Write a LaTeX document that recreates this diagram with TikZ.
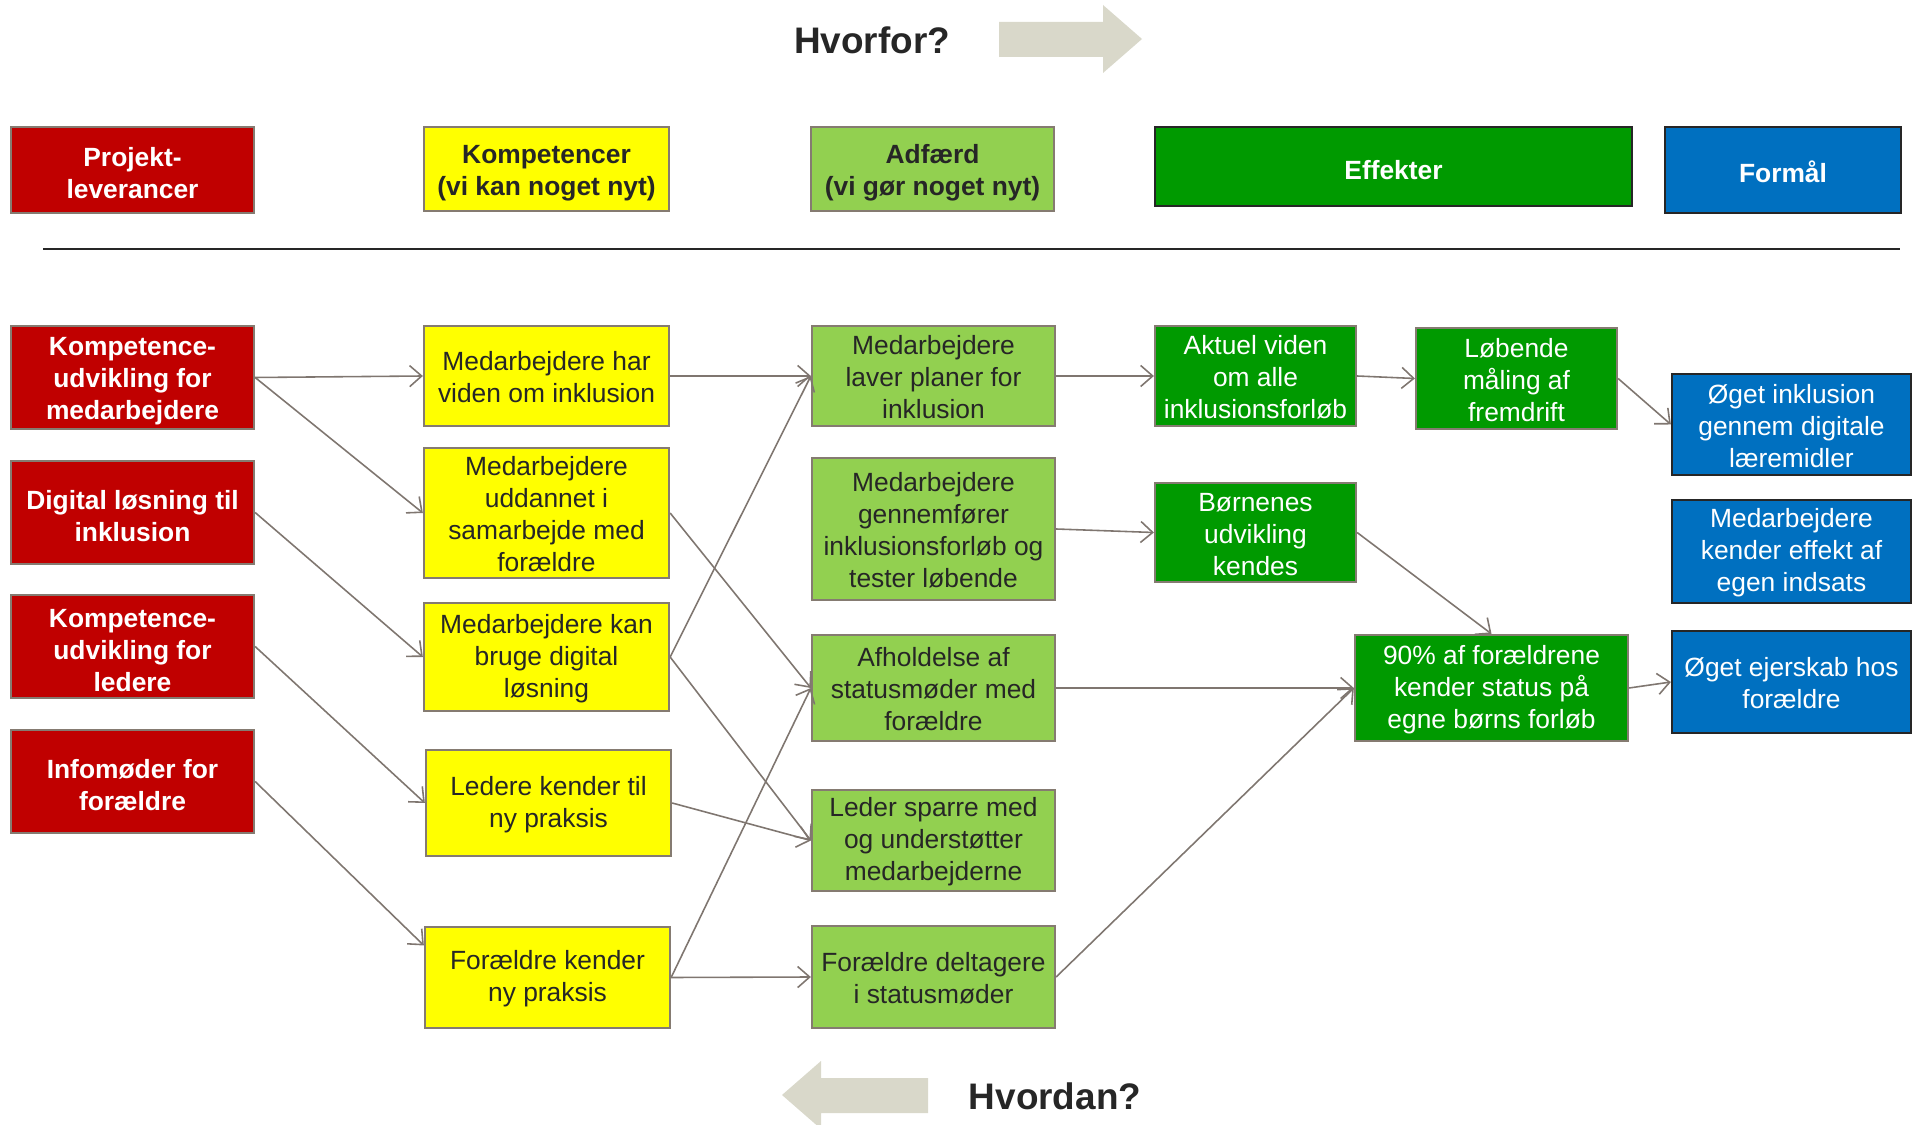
\documentclass[tikz,border=0pt]{standalone}
\usepackage{fontspec}
\setmainfont{Liberation Sans}
\usetikzlibrary{arrows.meta}

\definecolor{rod}{HTML}{C00000}
\definecolor{gul}{HTML}{FFFF00}
\definecolor{lysgron}{HTML}{92D050}
\definecolor{morkgron}{HTML}{009A00}
\definecolor{bla}{HTML}{0070C0}
\definecolor{kant}{HTML}{857B71}
\definecolor{morkkant}{HTML}{262626}
\definecolor{tekst}{HTML}{262626}
\definecolor{pilgraa}{HTML}{D9D8CA}
\definecolor{streg}{HTML}{7F7670}

\tikzset{
	bredde/.style={minimum width=#1, text width=#1},
	boks/.style={draw=kant, line width=0.6pt, align=flush center, inner sep=0pt,
		font=\fontsize{7.5}{9.1}\selectfont,
		execute at begin node={\rule{0pt}{6.3pt}}},
	rodboks/.style={boks, fill=rod, text=white, overskrift},
	gulboks/.style={boks, fill=gul, text=tekst},
	lysboks/.style={boks, fill=lysgron, text=tekst},
	gronboks/.style={boks, fill=morkgron, text=white},
	blaboks/.style={boks, draw=morkkant, fill=bla, text=white},
	overskrift/.style={font=\fontsize{7.5}{9.1}\selectfont\bfseries,
		execute at begin node={\rule{0pt}{7.4pt}}},
	titel/.style={text=tekst, font=\fontsize{10.5}{12}\selectfont\bfseries},
	pil/.style={draw=streg, line width=0.45pt,
		-{Straight Barb[length=1.2mm,width=2.1mm]}},
}

\begin{document}
\begin{tikzpicture}[x=0.01cm, y=-0.01cm]
	\clip (0,0) rectangle (1921,1125);

	% Hvorfor / Hvordan
	\fill[pilgraa] (999,22) -- (1103,22) -- (1103,5) -- (1142,39) -- (1103,73)
	-- (1103,57) -- (999,57) -- cycle;
	\node[titel] (hvorfor) at (872,40) {Hvorfor?};
	\fill[pilgraa] (928,1078) -- (821,1078) -- (821,1061) -- (782,1095) --
	(821,1129) -- (821,1113) -- (928,1113) -- cycle;
	\node[titel] (hvordan) at (1055,1096) {Hvordan?};

	% Overskrifter
	\node[rodboks, bredde=2.43cm, minimum height=0.86cm] (hP) at
	(132.5,170) {Projekt-\\leverancer};
	\node[gulboks, overskrift, bredde=2.45cm, minimum height=0.84cm] (hK)
	at (546.5,169) {Kompetencer\\(vi kan noget nyt)};
	\node[lysboks, overskrift, bredde=2.43cm, minimum height=0.84cm] (hA)
	at (932.5,169) {Adfærd\\(vi gør noget nyt)};
	\node[gronboks, overskrift, draw=morkkant, bredde=4.77cm,
	minimum height=0.79cm] (hE) at (1393.5,166.5) {Effekter};
	\node[blaboks, overskrift, bredde=2.36cm, minimum height=0.86cm] (hF)
	at (1783,170) {Formål};
	\draw[morkkant, line width=0.6pt] (43,249) -- (1900,249);

	% Projektleverancer
	\node[rodboks, bredde=2.43cm, minimum height=1.03cm] (r1) at
	(132.5,377.5) {Kompetence-\\udvikling for\\medarbejdere};
	\node[rodboks, bredde=2.43cm, minimum height=1.03cm] (r2) at
	(132.5,512.5) {Digital løsning til\\inklusion};
	\node[rodboks, bredde=2.43cm, minimum height=1.03cm] (r3) at
	(132.5,646.5) {Kompetence-\\udvikling for\\ledere};
	\node[rodboks, bredde=2.43cm, minimum height=1.03cm] (r4) at
	(132.5,781.5) {Infomøder for\\forældre};

	% Kompetencer
	\node[gulboks, bredde=2.45cm, minimum height=1.00cm] (y1) at
	(546.5,376) {Medarbejdere har\\viden om inklusion};
	\node[gulboks, bredde=2.45cm, minimum height=1.30cm] (y2) at
	(546.5,513) {Medarbejdere\\uddannet i\\samarbejde med\\forældre};
	\node[gulboks, bredde=2.45cm, minimum height=1.08cm] (y3) at
	(546.5,657) {Medarbejdere kan\\bruge digital\\løsning};
	\node[gulboks, bredde=2.45cm, minimum height=1.06cm] (y4) at
	(548.5,803) {Ledere kender til\\ny praksis};
	\node[gulboks, bredde=2.45cm, minimum height=1.01cm] (y5) at
	(547.5,977.5) {Forældre kender\\ny praksis};

	% Adfærd
	\node[lysboks, bredde=2.43cm, minimum height=1.00cm] (g1) at
	(933.5,376) {Medarbejdere\\laver planer for\\inklusion};
	\node[lysboks, bredde=2.43cm, minimum height=1.42cm] (g2) at
	(933.5,529) {Medarbejdere\\gennemfører\\inklusionsforløb og\\tester løbende};
	\node[lysboks, bredde=2.43cm, minimum height=1.06cm] (g3) at
	(933.5,688) {Afholdelse af\\statusmøder med\\forældre};
	\node[lysboks, bredde=2.43cm, minimum height=1.01cm] (g4) at
	(933.5,840.5) {Leder sparre med\\og understøtter\\medarbejderne};
	\node[lysboks, bredde=2.43cm, minimum height=1.02cm] (g5) at
	(933.5,977) {Forældre deltagere\\i statusmøder};

	% Effekter
	\node[gronboks, bredde=2.01cm, minimum height=1.00cm] (d1) at
	(1255.5,376) {Aktuel viden\\om alle\\inklusionsforløb};
	\node[gronboks, bredde=2.01cm, minimum height=1.01cm] (d2) at
	(1516.5,378.5) {Løbende\\måling af\\fremdrift};
	\node[gronboks, bredde=2.01cm, minimum height=0.99cm] (d3) at
	(1255.5,532.5) {Børnenes\\udvikling\\kendes};
	\node[gronboks, bredde=2.73cm, minimum height=1.06cm] (d4) at
	(1491.5,688) {90\% af forældrene\\kender status på\\egne børns forløb};

	% Formål
	\node[blaboks, bredde=2.39cm, minimum height=1.01cm] (b1) at
	(1791.5,424.5) {Øget inklusion\\gennem digitale\\læremidler};
	\node[blaboks, bredde=2.39cm, minimum height=1.03cm] (b2) at
	(1791.5,551.5) {Medarbejdere\\kender effekt af\\egen indsats};
	\node[blaboks, bredde=2.39cm, minimum height=1.02cm] (b3) at
	(1791.5,682) {Øget ejerskab hos\\forældre};

	% Pile
	\foreach \fra/\til in {r1/y1, r1/y2, r2/y3, r3/y4, y1/g1, y2/g3, y3/g1,
		y3/g4, y4/g4, y5/g5, y5/g3, g1/d1, g2/d3, g3/d4, g5/d4, d1/d2, d2/b1,
		d4/b3}
		\draw[pil] (\fra.east) -- (\til.west);
	\draw[pil] (r4.east) -- ([yshift=3.2mm]y5.west);
	\draw[pil] (d3.east) -- (d4.north);
\end{tikzpicture}
\end{document}
